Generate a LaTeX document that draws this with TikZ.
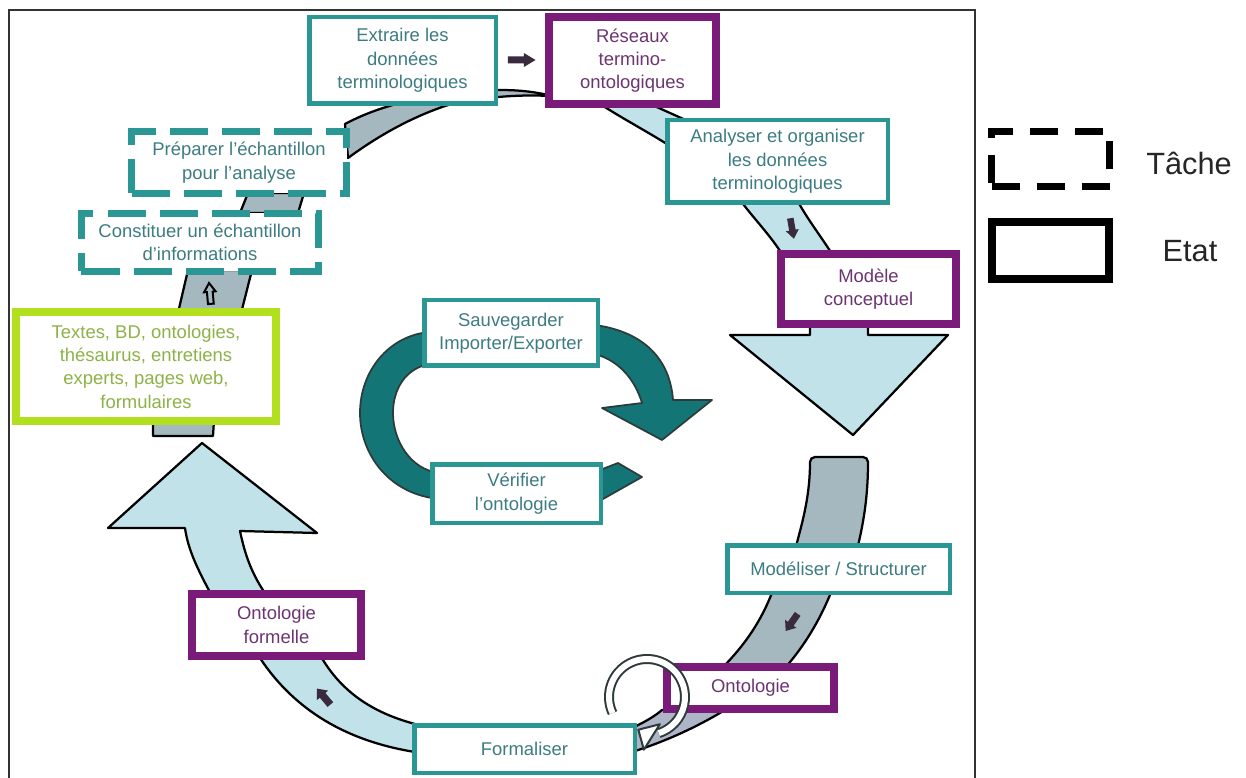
\documentclass[tikz,border=0pt]{standalone}
\usepackage{fontspec}
\setmainfont{Liberation Sans}
\definecolor{tealc}{HTML}{2A9794}
\definecolor{tealtxt}{HTML}{3D7C82}
\definecolor{purplec}{HTML}{7A1B7A}
\definecolor{purptxt}{HTML}{6C3572}
\definecolor{limec}{HTML}{B2E01E}
\definecolor{limetxt}{HTML}{8EB248}
\definecolor{paleblue}{HTML}{C0E2E8}
\definecolor{grayband}{HTML}{A5B8BF}
\definecolor{lilacband}{HTML}{ADB5C6}
\definecolor{darkteal}{HTML}{137575}
\definecolor{arrowdark}{HTML}{3A2A3E}
\definecolor{ringline}{HTML}{2E3B3B}
\tikzset{
  boxtext/.style={align=center, inner sep=0pt, fill=white,
    font=\fontsize{10.5}{13.3}\selectfont},
  tealbox/.style={boxtext, draw=tealc, line width=0.9mm, text=tealtxt},
  dashbox/.style={boxtext, draw=tealc, line width=1.4mm, text=tealtxt,
    dash pattern=on 7.6mm off 2.8mm},
  purplebox/.style={boxtext, draw=purplec, line width=1.6mm, text=purptxt},
  limebox/.style={boxtext, draw=limec, line width=1.6mm, text=limetxt},
  band/.style={draw=black, line width=0.45mm, line join=round},
  paleband/.style={band, fill=paleblue},
  grayb/.style={band, fill=grayband},
  legendtext/.style={text=black!85, font=\fontsize{17.5}{20}\selectfont},
  miniarrow/.pic={\path[pic actions] (-9,-3.5) -- (2,-3.5) -- (2,-7) -- (10,0)
    -- (2,7) -- (2,3.5) -- (-9,3.5) -- cycle;}
}
\begin{document}
\begin{tikzpicture}[x=0.2mm,y=-0.2mm]
\useasboundingbox (0,0) rectangle (1246,778);
\fill[white] (0,0) rectangle (1246,778);

% outer frame
\draw[line width=0.45mm, black!80] (9,800) -- (9,10) -- (975,10) -- (975,800);

% ---- curved bands of the cycle (behind the boxes) ----
% Preparer -> Extraire -> Reseaux
\path[grayb] (345,124) .. controls (375,108) and (420,93) .. (500,90)
  .. controls (520,90) and (535,92) .. (548,95) -- (548,96)
  .. controls (520,94) and (470,98) .. (445,106)
  .. controls (410,118) and (378,136) .. (348,158) -- cycle;
% Reseaux -> Analyser
\path[paleband] (600,104) .. controls (625,120) and (648,132) .. (670,146)
  -- (690,122) -- (650,104) -- cycle;
% Analyser -> Modele
\path[paleband] (740,200) .. controls (755,220) and (770,235) .. (782,254)
  -- (832,254) .. controls (820,235) and (808,220) .. (797,200) -- cycle;
% large down arrow under Modele conceptuel
\path[paleband] (810,322) -- (810,335) -- (730,335) -- (853,435) -- (948,335)
  -- (868,335) -- (868,322) -- cycle;
% band down to Modeliser
\path[grayb, rounded corners=1mm] (795,550) .. controls (803,520) and (810,495) .. (810,457)
  -- (868,457) .. controls (868,495) and (864,520) .. (857,550) -- cycle;
% Modeliser -> Ontologie
\path[grayb] (773,590) -- (832,590) .. controls (820,620) and (805,645) .. (785,668)
  -- (722,668) .. controls (745,645) and (762,620) .. (773,590) -- cycle;
% Ontologie -> Formaliser
\path[band, fill=lilacband] (725,710) .. controls (700,725) and (670,740) .. (632,752)
  -- (632,728) .. controls (645,722) and (655,716) .. (662,710) -- cycle;
% Formaliser -> Ontologie formelle
\path[paleband] (415,724) .. controls (370,712) and (340,690) .. (320,655)
  -- (258,655) .. controls (290,705) and (340,740) .. (415,752) -- cycle;
% large up arrow towards the sources
\path[paleband] (212,596) .. controls (198,570) and (188,550) .. (185,528)
  -- (108,528) -- (202,443) -- (317,533) -- (240,531)
  .. controls (245,555) and (252,575) .. (267,596) -- cycle;
% Textes -> Constituer
\path[grayb] (153,436) -- (153,420) -- (188,270) -- (252,270) -- (214,420)
  -- (213,436) -- cycle;
% Constituer -> Preparer
\path[grayb] (240,213) -- (248,193) -- (304,193) -- (298,213) -- cycle;

% ---- central loop arrow ----
\path[fill=darkteal, draw=ringline, line width=0.35mm, line join=round]
  (642,477) -- (603,499) -- (440,499)
  .. controls (390,495) and (360,455) .. (360,413)
  .. controls (360,370) and (390,335) .. (430,332) -- (595,325)
  .. controls (645,332) and (670,360) .. (673,400) -- (712,400) -- (662,440)
  -- (602,408) -- (642,403)
  .. controls (635,380) and (620,362) .. (598,355) -- (430,364)
  .. controls (405,368) and (393,390) .. (393,413)
  .. controls (393,440) and (410,470) .. (440,473) -- (600,470) -- (618,463) -- cycle;

% ---- boxes ----
\node[tealbox, minimum width=37.3mm, minimum height=17.3mm] (extraire) at (402.5,60.5)
  {Extraire les\\données\\terminologiques};
\node[purplebox, minimum width=33.4mm, minimum height=17.4mm] (reseaux) at (632.5,60.5)
  {Réseaux\\termino-\\ontologiques};
\node[tealbox, minimum width=44.1mm, minimum height=16.5mm] (analyser) at (777.5,161.5)
  {Analyser et organiser\\les données\\terminologiques};
\node[purplebox, minimum width=35mm, minimum height=14mm] (modele) at (868.5,289)
  {Modèle\\conceptuel};
\node[tealbox, minimum width=44.5mm, minimum height=9.5mm] (modeliser) at (838.5,569)
  {Modéliser / Structurer};
\node[purplebox, minimum width=33.4mm, minimum height=8.4mm] (ontologie) at (750.5,688)
  {Ontologie};
\node[tealbox, minimum width=44.1mm, minimum height=9.5mm] (formaliser) at (524.5,749)
  {Formaliser};
\node[purplebox, minimum width=33.8mm, minimum height=12.4mm] (formelle) at (276.5,625)
  {Ontologie\\formelle};
\node[limebox, minimum width=52mm, minimum height=21.8mm] (textes) at (146,366.5)
  {Textes, BD, ontologies,\\thésaurus, entretiens\\experts, pages web,\\formulaires};
\node[dashbox, minimum width=47.4mm, minimum height=11.6mm] (constituer) at (200,242.5)
  {Constituer un échantillon\\d'informations};
\node[dashbox, minimum width=43mm, minimum height=12.4mm] (preparer) at (239,162.5)
  {Préparer l'échantillon\\pour l'analyse};
\node[tealbox, minimum width=34.7mm, minimum height=13.1mm] (sauvegarder) at (511,333)
  {Sauvegarder\\Importer/Exporter};
\node[tealbox, minimum width=33.7mm, minimum height=11.7mm] (verifier) at (516.5,493.5)
  {Vérifier\\l'ontologie};

% ---- small direction arrows ----
\pic[fill=arrowdark, xscale=1.45, yscale=1.0] at (521,60) {miniarrow};
\pic[fill=arrowdark, rotate=-80, scale=1.1, yscale=0.85] at (792,228) {miniarrow};
\pic[fill=arrowdark, rotate=-125, scale=1.1, yscale=0.9] at (792,622) {miniarrow};
\pic[fill=arrowdark, rotate=130, scale=1.1, yscale=0.95] at (324,697) {miniarrow};
\pic[fill=grayband, draw=black, line width=0.4mm, rotate=95, scale=1.1, yscale=0.75] at (210,294) {miniarrow};

% ---- looping arrow next to Ontologie ----
\coordinate (ringc) at (647,697);
\draw[line width=2.0mm, ringline] ([shift={(205:7.6mm)}]ringc)
  arc[start angle=205, end angle=-72, radius=7.6mm];
\draw[line width=1.2mm, white] ([shift={(205:7.6mm)}]ringc)
  arc[start angle=205, end angle=-72, radius=7.6mm];
\path[fill=white, draw=ringline, line width=0.4mm, line join=round]
  ([shift={(-75:7.6mm)}]ringc) ++(0.6mm,1.9mm) -- ++(-4.3mm,-1.1mm) -- ++(1.1mm,-4.0mm) -- cycle;

% ---- legend ----
\node[draw=black, line width=1.4mm, dash pattern=on 5.6mm off 3.4mm,
  minimum width=23.6mm, minimum height=11mm, inner sep=0pt] (tache) at (1050.5,159) {};
\node[draw=black, line width=1.6mm, minimum width=23.4mm, minimum height=11.4mm,
  inner sep=0pt] (etat) at (1050.5,250.5) {};
\node[legendtext] (tachelbl) at (1189,163) {Tâche};
\node[legendtext] (etatlbl) at (1190,251) {Etat};
\end{tikzpicture}
\end{document}
